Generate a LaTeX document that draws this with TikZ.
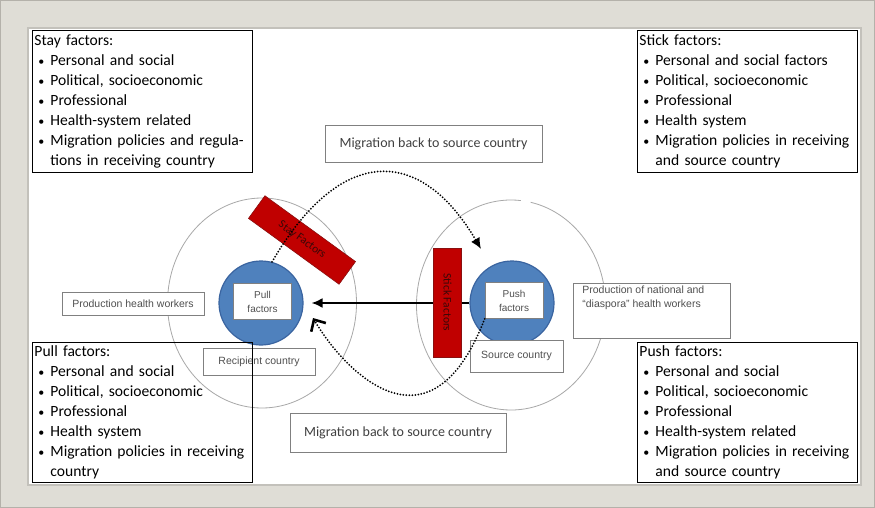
\documentclass[tikz,border=0pt]{standalone}
\usepackage{fontspec}
\setmainfont{Carlito}
\newfontfamily\smallfont{Liberation Sans}
\usetikzlibrary{calc,arrows.meta,shapes.geometric}

\definecolor{frameGray}{HTML}{DFDDD6}
\definecolor{frameEdge}{HTML}{B4B1AA}
\definecolor{regionGray}{HTML}{A8A8A8}
\definecolor{coreBlue}{HTML}{4F81BD}
\definecolor{coreEdge}{HTML}{3A64A0}
\definecolor{barRed}{HTML}{C00000}
\definecolor{barEdge}{HTML}{8A1010}
\definecolor{barText}{HTML}{3A0808}
\definecolor{labelEdge}{HTML}{808080}
\definecolor{textGray}{HTML}{505050}

\newcommand{\bul}{\makebox[16pt][l]{\hspace{4pt}{\fontsize{12}{12}\selectfont\textbullet}}}
\newcommand{\cont}{\hspace*{16pt}}

\begin{document}
\begin{tikzpicture}[x=1pt,y=-1pt,>=latex]

  \tikzstyle{factorList} = [draw, line width=0.9pt, anchor=north west, text width=216pt, minimum height=142pt, inner xsep=2pt, inner ysep=1pt, align=left, font={\fontsize{15.6}{20}\selectfont}]
  \tikzstyle{country} = [draw=regionGray, line width=0.8pt, ellipse, minimum width=189pt, minimum height=210pt];
  \tikzstyle{countryLine} = [draw=regionGray, line width=0.8pt];
  \tikzstyle{core} = [circle, fill=coreBlue, draw=coreEdge, line width=1.2pt, minimum size=84pt];
  \tikzstyle{coreLabel} = [draw=labelEdge, fill=white, line width=0.7pt, align=center, minimum width=58pt, minimum height=36pt, text=textGray, font={\smallfont\fontsize{10}{14}\selectfont}];
  \tikzstyle{barrier} = [fill=barRed, draw=barEdge, line width=0.6pt, minimum height=28pt, text=barText, font={\fontsize{11.5}{13}\selectfont}];
  \tikzstyle{caption} = [draw=labelEdge, fill=white, line width=0.7pt, text=textGray, font={\smallfont\fontsize{10.5}{14}\selectfont}];
  \tikzstyle{migrationText} = [caption, text=black!75, font={\fontsize{14}{16}\selectfont}];
  \tikzstyle{migration} = [line width=2pt, dash pattern=on 0pt off 3pt, line cap=round];

  % frame of the slide
  \useasboundingbox (0,0) rectangle (875,508);
  \fill[frameGray, draw=frameEdge] (0.5,0.5) rectangle (874.5,507.5);
  \fill[white, draw=frameEdge!80, line width=1.2pt] (28,28) rectangle (861,485);

  % recipient and source country
  \node[country, name=recipient] at (262,303) {};
  \coordinate (source) at (511,305);
  \draw[countryLine] ($(source)+(-84:94.5 and 105)$)
    arc[start angle=-84, end angle=-438, x radius=94.5, y radius=105];

  % the factors in the middle of each country
  \node[core, name=pull] at (261,303) {};
  \node[core, name=push] at (512,303) {};
  \node[coreLabel, name=pullLbl] at (262.5,301.5) {Pull\\factors};
  \node[coreLabel, name=pushLbl] at (514,300.5) {Push\\factors};

  % labels round the countries
  \node[caption, name=production, minimum width=142pt, minimum height=23pt] at (133,303.5) {Production health workers};
  \node[caption, name=recipientLbl, minimum width=112pt, minimum height=27pt] at (259,361.5) {Recipient country};
  \node[caption, name=sourceLbl, minimum width=93pt, minimum height=32pt] at (516.5,356) {Source country};
  \node[caption, name=diaspora, anchor=north west, inner sep=0pt] at (573,283)
    {\parbox[t][55pt][t]{157pt}{\hspace*{9pt}\parbox[t]{145pt}{\vspace*{3pt}Production of national and\\“diaspora” health workers}}};

  % migration from source to recipient country
  \draw[line width=1.8pt, -{Latex[length=11pt,width=10pt]}, shorten >=8pt] (push.west) -- (pull.east);

  % stay and stick factors
  \node[barrier, name=stay, minimum width=112pt, rotate=-36] at (302,240) {Stay Factors};
  \node[barrier, name=stick, minimum width=109pt, rotate=-90] at (447.5,302.5) {Stick Factors};

  % migration back to source country
  \node[migrationText, name=backTop, minimum width=217pt, minimum height=37pt] at (433.5,143.5) {Migration back to source country};
  \node[migrationText, name=backBottom, minimum width=216pt, minimum height=39pt] at (398,432.5) {Migration back to source country};
  \coordinate (returnTip) at (481,249);
  \coordinate (returnEnd) at (313,318);
  \draw[migration, -{Latex[length=11pt,width=10pt]}] (pull.75)
    .. controls (340,145) and (420,145) .. (returnTip);
  \draw[migration, -{Straight Barb[length=9pt,width=17pt,line width=2.6pt]}] (pushLbl.south west)
    .. controls (430,460) and (345,372) .. (returnEnd);

  % the four lists of factors
  \node[factorList, name=stayList] at (32,30) {Stay factors:\\
    \bul Personal and social\\
    \bul Political, socioeconomic\\
    \bul Professional\\
    \bul Health-system related\\
    \bul Migration policies and regula-\\
    \cont tions in receiving country};
  \node[factorList, name=stickList] at (637,30) {Stick factors:\\
    \bul Personal and social factors\\
    \bul Political, socioeconomic\\
    \bul Professional\\
    \bul Health system\\
    \bul Migration policies in receiving\\
    \cont and source country};
  \node[factorList, name=pullList, minimum height=140pt] at (32,342) {Pull factors:\\
    \bul Personal and social\\
    \bul Political, socioeconomic\\
    \bul Professional\\
    \bul Health system\\
    \bul Migration policies in receiving\\
    \cont country};
  \node[factorList, name=pushList, minimum height=140pt] at (637,342) {Push factors:\\
    \bul Personal and social\\
    \bul Political, socioeconomic\\
    \bul Professional\\
    \bul Health-system related\\
    \bul Migration policies in receiving\\
    \cont and source country};

\end{tikzpicture}
\end{document}
